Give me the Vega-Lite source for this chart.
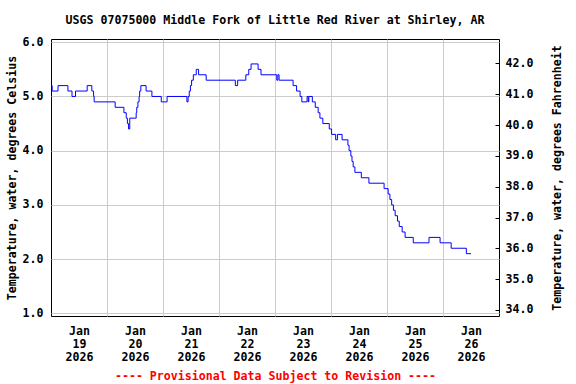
{
  "$schema": "https://vega.github.io/schema/vega-lite/v6.json",
  "width": 448,
  "height": 277,
  "autosize": {"type": "none"},
  "padding": {"left": 51, "top": 39, "right": 77, "bottom": 68},
  "background": "white",
  "config": {
    "view": {"stroke": "black", "strokeWidth": 1},
    "font": "DejaVu Sans Mono",
    "axis": {
      "labelFont": "DejaVu Sans Mono",
      "labelFontSize": 11.6,
      "labelFontWeight": "bold",
      "labelColor": "black",
      "titleFont": "DejaVu Sans Mono",
      "titleFontSize": 11.6,
      "titleFontWeight": "bold",
      "titleColor": "black",
      "gridColor": "#cccccc",
      "gridWidth": 1
    }
  },
  "title": {
    "text": "USGS 07075000 Middle Fork of Little Red River at Shirley, AR",
    "font": "DejaVu Sans Mono",
    "fontSize": 11.6,
    "fontWeight": "bold",
    "color": "black",
    "anchor": "middle",
    "baseline": "alphabetic",
    "offset": 1
  },
  "layer": [
    {
      "data": {
        "values": [
          {"t": "2026-01-19T00:00:00", "c": 5.2},
          {"t": "2026-01-19T00:30:00", "c": 5.1},
          {"t": "2026-01-19T03:00:00", "c": 5.2},
          {"t": "2026-01-19T07:15:00", "c": 5.1},
          {"t": "2026-01-19T09:00:00", "c": 5.0},
          {"t": "2026-01-19T10:30:00", "c": 5.1},
          {"t": "2026-01-19T15:30:00", "c": 5.2},
          {"t": "2026-01-19T17:30:00", "c": 5.1},
          {"t": "2026-01-19T18:15:00", "c": 5.0},
          {"t": "2026-01-19T18:30:00", "c": 4.9},
          {"t": "2026-01-20T03:30:00", "c": 4.8},
          {"t": "2026-01-20T07:15:00", "c": 4.7},
          {"t": "2026-01-20T08:15:00", "c": 4.6},
          {"t": "2026-01-20T08:45:00", "c": 4.5},
          {"t": "2026-01-20T09:15:00", "c": 4.4},
          {"t": "2026-01-20T09:45:00", "c": 4.6},
          {"t": "2026-01-20T12:30:00", "c": 4.7},
          {"t": "2026-01-20T12:45:00", "c": 4.8},
          {"t": "2026-01-20T13:15:00", "c": 4.9},
          {"t": "2026-01-20T13:45:00", "c": 5.0},
          {"t": "2026-01-20T14:00:00", "c": 5.1},
          {"t": "2026-01-20T14:30:00", "c": 5.2},
          {"t": "2026-01-20T16:45:00", "c": 5.1},
          {"t": "2026-01-20T19:15:00", "c": 5.0},
          {"t": "2026-01-20T23:15:00", "c": 4.9},
          {"t": "2026-01-21T01:45:00", "c": 5.0},
          {"t": "2026-01-21T10:15:00", "c": 4.9},
          {"t": "2026-01-21T10:45:00", "c": 5.0},
          {"t": "2026-01-21T11:15:00", "c": 5.1},
          {"t": "2026-01-21T11:45:00", "c": 5.2},
          {"t": "2026-01-21T12:15:00", "c": 5.3},
          {"t": "2026-01-21T13:00:00", "c": 5.4},
          {"t": "2026-01-21T14:15:00", "c": 5.5},
          {"t": "2026-01-21T15:15:00", "c": 5.4},
          {"t": "2026-01-21T18:30:00", "c": 5.3},
          {"t": "2026-01-22T07:00:00", "c": 5.2},
          {"t": "2026-01-22T08:00:00", "c": 5.3},
          {"t": "2026-01-22T11:30:00", "c": 5.4},
          {"t": "2026-01-22T12:45:00", "c": 5.5},
          {"t": "2026-01-22T13:45:00", "c": 5.6},
          {"t": "2026-01-22T16:45:00", "c": 5.5},
          {"t": "2026-01-22T18:00:00", "c": 5.4},
          {"t": "2026-01-23T00:45:00", "c": 5.3},
          {"t": "2026-01-23T01:15:00", "c": 5.4},
          {"t": "2026-01-23T01:45:00", "c": 5.3},
          {"t": "2026-01-23T07:45:00", "c": 5.2},
          {"t": "2026-01-23T09:15:00", "c": 5.1},
          {"t": "2026-01-23T10:45:00", "c": 5.0},
          {"t": "2026-01-23T11:30:00", "c": 4.9},
          {"t": "2026-01-23T13:45:00", "c": 5.0},
          {"t": "2026-01-23T14:15:00", "c": 4.9},
          {"t": "2026-01-23T14:30:00", "c": 5.0},
          {"t": "2026-01-23T16:00:00", "c": 4.9},
          {"t": "2026-01-23T17:15:00", "c": 4.8},
          {"t": "2026-01-23T18:30:00", "c": 4.7},
          {"t": "2026-01-23T19:15:00", "c": 4.6},
          {"t": "2026-01-23T20:30:00", "c": 4.5},
          {"t": "2026-01-23T23:15:00", "c": 4.4},
          {"t": "2026-01-24T00:15:00", "c": 4.3},
          {"t": "2026-01-24T02:00:00", "c": 4.2},
          {"t": "2026-01-24T02:45:00", "c": 4.3},
          {"t": "2026-01-24T04:45:00", "c": 4.2},
          {"t": "2026-01-24T07:15:00", "c": 4.1},
          {"t": "2026-01-24T07:45:00", "c": 4.0},
          {"t": "2026-01-24T08:30:00", "c": 3.9},
          {"t": "2026-01-24T09:00:00", "c": 3.8},
          {"t": "2026-01-24T09:30:00", "c": 3.7},
          {"t": "2026-01-24T10:15:00", "c": 3.6},
          {"t": "2026-01-24T13:00:00", "c": 3.5},
          {"t": "2026-01-24T16:15:00", "c": 3.4},
          {"t": "2026-01-24T22:45:00", "c": 3.3},
          {"t": "2026-01-25T00:30:00", "c": 3.2},
          {"t": "2026-01-25T01:15:00", "c": 3.1},
          {"t": "2026-01-25T02:00:00", "c": 3.0},
          {"t": "2026-01-25T02:45:00", "c": 2.9},
          {"t": "2026-01-25T03:30:00", "c": 2.8},
          {"t": "2026-01-25T04:30:00", "c": 2.7},
          {"t": "2026-01-25T05:15:00", "c": 2.6},
          {"t": "2026-01-25T06:30:00", "c": 2.5},
          {"t": "2026-01-25T07:45:00", "c": 2.4},
          {"t": "2026-01-25T11:15:00", "c": 2.3},
          {"t": "2026-01-25T18:00:00", "c": 2.4},
          {"t": "2026-01-25T22:45:00", "c": 2.3},
          {"t": "2026-01-26T03:30:00", "c": 2.2},
          {"t": "2026-01-26T10:00:00", "c": 2.1},
          {"t": "2026-01-26T12:00:00", "c": 2.1}
        ]
      },
      "mark": {"type": "line", "interpolate": "step-after", "color": "#0000ff", "strokeWidth": 1},
      "encoding": {
        "x": {
          "field": "t",
          "type": "temporal",
          "scale": {
            "domain": [
              {"year": 2026, "month": 1, "date": 19, "hours": 0},
              {"year": 2026, "month": 1, "date": 27, "hours": 0}
            ],
            "nice": false
          },
          "axis": {
            "orient": "bottom",
            "values": [
              {"year": 2026, "month": 1, "date": 19, "hours": 12},
              {"year": 2026, "month": 1, "date": 20, "hours": 0},
              {"year": 2026, "month": 1, "date": 20, "hours": 12},
              {"year": 2026, "month": 1, "date": 21, "hours": 0},
              {"year": 2026, "month": 1, "date": 21, "hours": 12},
              {"year": 2026, "month": 1, "date": 22, "hours": 0},
              {"year": 2026, "month": 1, "date": 22, "hours": 12},
              {"year": 2026, "month": 1, "date": 23, "hours": 0},
              {"year": 2026, "month": 1, "date": 23, "hours": 12},
              {"year": 2026, "month": 1, "date": 24, "hours": 0},
              {"year": 2026, "month": 1, "date": 24, "hours": 12},
              {"year": 2026, "month": 1, "date": 25, "hours": 0},
              {"year": 2026, "month": 1, "date": 25, "hours": 12},
              {"year": 2026, "month": 1, "date": 26, "hours": 0},
              {"year": 2026, "month": 1, "date": 26, "hours": 12}
            ],
            "labelExpr": "hours(datum.value) == 12 ? [timeFormat(datum.value, '%b'), timeFormat(datum.value, '%d'), timeFormat(datum.value, '%Y')] : ''",
            "labelAlign": "center",
            "labelLineHeight": 13,
            "labelPadding": 9,
            "labelOverlap": false,
            "ticks": false,
            "domain": false,
            "grid": true,
            "gridOpacity": {"condition": {"test": "hours(datum.value) == 0", "value": 1}, "value": 0},
            "title": "---- Provisional Data Subject to Revision ----",
            "titleColor": "#ff0000",
            "titlePadding": 8
          }
        },
        "y": {
          "field": "c",
          "type": "quantitative",
          "scale": {"domain": [0.95, 6.06], "nice": false, "zero": false},
          "axis": {
            "orient": "left",
            "values": [1, 2, 3, 4, 5, 6],
            "format": ".1f",
            "grid": true,
            "ticks": false,
            "domain": false,
            "labelPadding": 8,
            "title": "Temperature, water, degrees Celsius",
            "titlePadding": 5
          }
        }
      }
    },
    {
      "data": {"values": [{"f": 34}, {"f": 42}]},
      "mark": {"type": "point", "opacity": 0},
      "encoding": {
        "y": {
          "field": "f",
          "type": "quantitative",
          "scale": {"domain": [33.805, 42.79], "nice": false, "zero": false},
          "axis": {
            "orient": "right",
            "values": [34, 35, 36, 37, 38, 39, 40, 41, 42],
            "format": ".1f",
            "grid": false,
            "ticks": true,
            "tickSize": -4,
            "tickColor": "black",
            "domain": false,
            "labelPadding": 10,
            "title": "Temperature, water, degrees Fahrenheit",
            "titleAngle": 270,
            "titlePadding": 30
          }
        }
      }
    }
  ],
  "resolve": {"scale": {"y": "independent"}, "axis": {"y": "independent"}}
}
